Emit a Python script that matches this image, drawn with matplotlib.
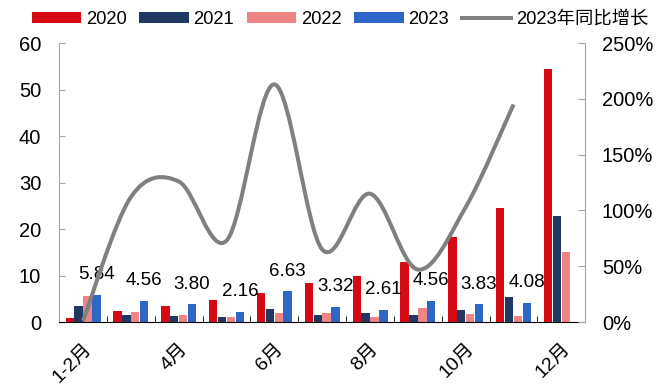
import matplotlib

matplotlib.use("Agg")

import matplotlib.pyplot as plt
import numpy as np
from matplotlib.lines import Line2D
from matplotlib.patches import PathPatch
from matplotlib.path import Path

plt.rcParams["font.family"] = ["Liberation Sans", "Noto Sans CJK SC", "DejaVu Sans"]
plt.rcParams["font.size"] = 13

months = ["1-2月", "3月", "4月", "5月", "6月", "7月", "8月", "9月", "10月", "11月", "12月"]
v2020 = [0.9, 2.3, 3.45, 4.8, 6.2, 8.5, 9.9, 12.97, 18.2, 24.6, 54.4]
v2021 = [3.5, 1.6, 1.3, 1.0, 2.9, 1.6, 1.9, 1.6, 2.6, 5.4, 22.8]
v2022 = [5.6, 2.15, 1.6, 1.15, 2.0, 1.9, 1.1, 2.95, 1.75, 1.25, 15.05]
v2023 = [5.84, 4.56, 3.80, 2.16, 6.63, 3.32, 2.61, 4.56, 3.83, 4.08, np.nan]
yoy_2023 = [1, 112, 126, 73, 213, 65, 115, 47, 103, 195]  # %

series = [("2020", v2020, "#D50A12"),
          ("2021", v2021, "#1F3864"),
          ("2022", v2022, "#EE8584"),
          ("2023", v2023, "#2E66C8")]


def smooth_path(xs, ys):
    """Cubic Bezier path through the points (Catmull-Rom style tangents)."""
    pts = np.column_stack([xs, ys]).astype(float)
    n = len(pts)
    verts = [pts[0]]
    codes = [Path.MOVETO]
    for i in range(n - 1):
        p0 = pts[max(i - 1, 0)]
        p1 = pts[i]
        p2 = pts[i + 1]
        p3 = pts[min(i + 2, n - 1)]
        verts += [p1 + (p2 - p0) / 6, p2 - (p3 - p1) / 6, p2]
        codes += [Path.CURVE4] * 3
    return Path(verts, codes)


fig = plt.figure(figsize=(6.72, 3.88), dpi=100)
ax = fig.add_axes([0.088, 0.170, 0.783, 0.719])
ax2 = ax.twinx()

x = np.arange(len(months))
slot = 0.185
width = 0.175
handles = []
for k, (name, vals, color) in enumerate(series):
    offs = (k - 1.5) * slot
    bars = ax.bar(x + offs, vals, width, color=color, label=name, zorder=2)
    handles.append(bars)

# 2023 value labels above the blue bars
for xi, val in zip(x, v2023):
    if not np.isnan(val):
        ax.annotate(f"{val:.2f}", (xi + 1.5 * slot, val), xytext=(0, 14.5),
                    textcoords="offset points", ha="center", va="center",
                    fontsize=13.5, zorder=5)

ax.set_xlim(-0.5, len(months) - 0.5)
ax.set_ylim(0, 60)
ax.set_yticks(np.arange(0, 61, 10))
ax2.set_ylim(0, 250)
ax2.set_yticks(np.arange(0, 251, 50))
ax2.set_yticklabels([f"{t}%" for t in range(0, 251, 50)])

line_path = smooth_path(np.arange(len(yoy_2023)), yoy_2023)
ax2.add_patch(PathPatch(line_path, facecolor="none", edgecolor="#808080",
                        linewidth=2.9, capstyle="butt", zorder=3))
line_handle = Line2D([], [], color="#808080", linewidth=2.9, label="2023年同比增长")

# spines / ticks
for a in (ax, ax2):
    a.spines["top"].set_visible(False)
ax.spines["left"].set_color("#A6A6A6")
ax.spines["right"].set_visible(False)
ax.spines["bottom"].set_color("black")
ax2.spines["right"].set_color("#A6A6A6")
ax2.spines["left"].set_visible(False)
ax2.spines["bottom"].set_visible(False)

ax.tick_params(axis="y", direction="in", length=4, color="#A6A6A6", pad=13,
               labelsize=14.5)
ax2.tick_params(axis="y", direction="in", length=5, color="#A6A6A6", pad=12,
                labelsize=14.5)

ax.set_xticks(np.arange(-0.5, len(months), 1), minor=True)
ax.set_xticks(x[::2])
ax.set_xticklabels(months[::2], rotation=45, ha="right", va="top",
                   rotation_mode="anchor", fontsize=14)
ax.tick_params(axis="x", which="major", length=0, pad=13)
ax.tick_params(axis="x", which="minor", direction="in", length=4, color="black")

fig.legend(handles=handles + [line_handle], loc="upper center",
           bbox_to_anchor=(0.506, 1.015), ncol=5, frameon=False,
           handlelength=2.7, handleheight=0.55, handletextpad=0.25,
           columnspacing=0.7, fontsize=13.2)

fig.savefig("out.png", dpi=100)
